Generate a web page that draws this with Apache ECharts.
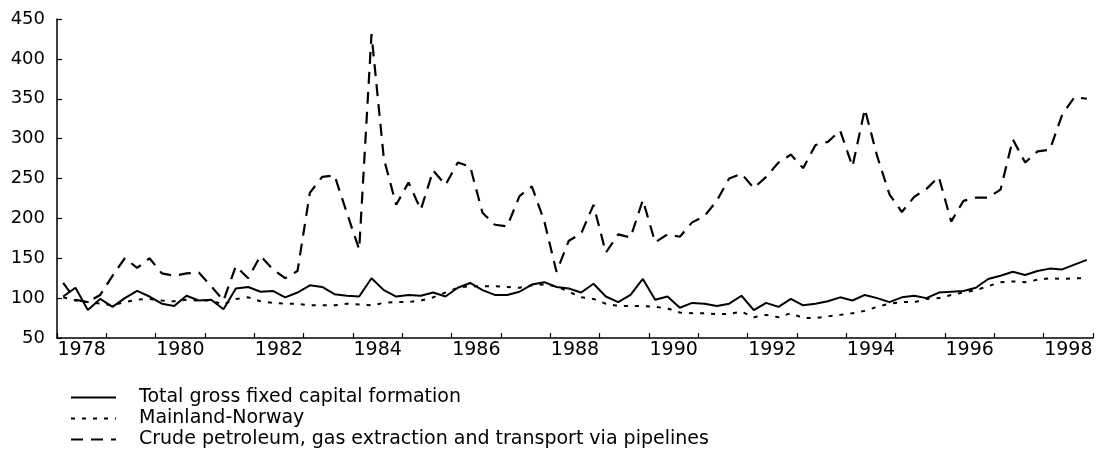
<!DOCTYPE html>
<html>
<head>
<meta charset="utf-8">
<script src="https://cdn.jsdelivr.net/npm/echarts@6/dist/echarts.min.js"></script>
<style>
  html, body { margin: 0; padding: 0; background: #fff; }
  #chart { width: 1097px; height: 456px; }
</style>
</head>
<body>
<div id="chart"></div>
<script>
// years shown on the axis, one category per year
var years = [];
for (var y = 1978; y <= 1998; y++) years.push(String(y));

// quarterly points, 1978Q1 .. 1998Q4
var quarters = [];
years.forEach(function (yr) {
  for (var q = 1; q <= 4; q++) quarters.push(yr + "Q" + q);
});

var seriesNames = [
  "Total gross fixed capital formation",
  "Mainland-Norway",
  "Crude petroleum, gas extraction and transport via pipelines"
];

var totalGfcf = [
  102, 113, 85, 99, 89, 100, 109, 102, 93, 90, 103, 97,
  98, 86, 112, 114, 108, 109, 101, 107, 116, 114, 105, 103,
  102, 125, 110, 102, 104, 103, 107, 102, 113, 119, 110, 104,
  104, 108, 117, 120, 114, 112, 107, 118, 102, 95, 104, 124,
  98, 102, 88, 94, 93, 90, 93, 103, 85, 94, 89, 99,
  91, 93, 96, 101, 97, 104, 100, 95, 101, 103, 100, 107,
  108, 109, 113, 124, 128, 133, 129, 134, 137, 136, 142, 148
];

var mainland = [
  101, 97, 95, 93, 91, 95, 98, 99, 97, 96, 98, 97,
  97, 92, 99, 101, 96, 94, 93, 93, 91, 91, 91, 93,
  92, 91, 94, 95, 95, 97, 101, 107, 113, 115, 115, 115,
  114, 113, 116, 117, 115, 108, 101, 99, 93, 90, 90, 90,
  89, 87, 82, 81, 81, 80, 80, 83, 76, 79, 76, 81,
  75, 75, 77, 79, 81, 84, 89, 93, 95, 95, 99, 100,
  104, 107, 110, 115, 120, 121, 120, 123, 125, 124, 125, 125
];

var crude = [
  119, 98, 95, 104, 128, 150, 138, 150, 131, 128, 131, 132,
  115, 97, 140, 125, 153, 136, 125, 134, 232, 252, 254, 207,
  161, 431, 275, 217, 245, 211, 260, 242, 270, 265, 207, 192,
  190, 228, 240, 197, 133, 172, 181, 217, 157, 180, 176, 223,
  170, 180, 177, 195, 203, 222, 250, 256, 238, 252, 270, 280,
  263, 292, 296, 310, 265, 337, 278, 230, 208, 227, 237, 252,
  196, 222, 226, 226, 236, 299, 270, 284, 286, 330, 352, 350
];

var yTicks = { min: 50, max: 450, step: 50 };

var FONT = "DejaVu Sans";
var chart = echarts.init(document.getElementById("chart"));

chart.setOption({
  animation: false,
  backgroundColor: "#fff",
  grid: { left: 57, right: 4, top: 19, bottom: 118, containLabel: false },
  legend: {
    orient: "vertical",
    left: 70,
    top: 388,
    padding: 0,
    itemWidth: 45,
    itemHeight: 14,
    itemGap: 2,
    selectedMode: false,
    data: seriesNames,
    itemStyle: { opacity: 0 },
    textStyle: {
      color: "#000",
      fontFamily: FONT,
      fontSize: 19,
      lineHeight: 18,
      padding: [0, 0, 0, 18]
    }
  },
  xAxis: [
    {
      type: "category",
      data: years,
      boundaryGap: true,
      axisLine: { show: true, lineStyle: { color: "#000", width: 1.5 } },
      axisTick: { show: true, inside: true, length: 5, interval: 0, lineStyle: { color: "#000", width: 1.2 } },
      axisLabel: { interval: 1, color: "#000", fontFamily: FONT, fontSize: 19, margin: 3 },
      splitLine: { show: false }
    },
    {
      type: "category",
      data: quarters,
      boundaryGap: true,
      show: false
    }
  ],
  yAxis: {
    type: "value",
    min: yTicks.min,
    max: yTicks.max,
    interval: yTicks.step,
    axisLine: { show: true, lineStyle: { color: "#000", width: 1.5 } },
    axisTick: { show: true, inside: true, length: 5, lineStyle: { color: "#000", width: 1.2 } },
    axisLabel: { color: "#000", fontFamily: FONT, fontSize: 18, margin: 12 },
    splitLine: { show: false }
  },
  series: [
    {
      name: seriesNames[0],
      type: "line",
      xAxisIndex: 1,
      data: totalGfcf,
      symbol: "none",
      lineStyle: { color: "#000", width: 2 },
      itemStyle: { color: "#000" }
    },
    {
      name: seriesNames[1],
      type: "line",
      xAxisIndex: 1,
      data: mainland,
      symbol: "none",
      lineStyle: { color: "#000", width: 2, type: [4, 7] },
      itemStyle: { color: "#000" }
    },
    {
      name: seriesNames[2],
      type: "line",
      xAxisIndex: 1,
      data: crude,
      symbol: "none",
      lineStyle: { color: "#000", width: 2.2, type: [12, 8] },
      itemStyle: { color: "#000" }
    }
  ]
});
</script>
</body>
</html>
